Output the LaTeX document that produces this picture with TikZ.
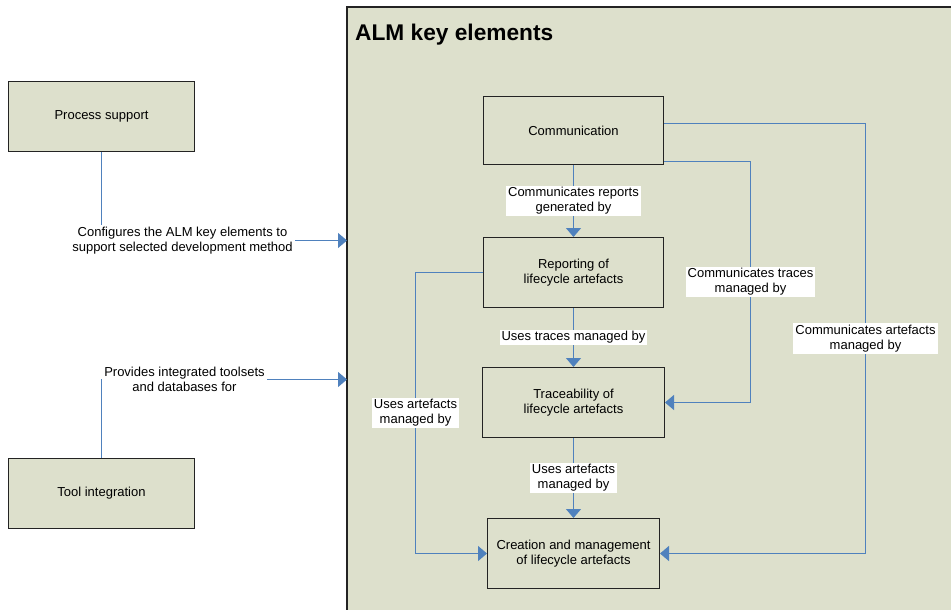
\documentclass[tikz,border=0pt]{standalone}
\usepackage{fontspec}
\setmainfont{Liberation Sans}
\usetikzlibrary{arrows.meta}
\definecolor{almfill}{RGB}{221,224,204}
\definecolor{almblue}{RGB}{79,129,189}
\definecolor{almedge}{RGB}{35,35,35}

\begin{document}
\begin{tikzpicture}[x=1pt, y=-1pt,
    box/.style={draw=almedge, line width=1pt, fill=almfill, align=center,
                font=\fontsize{13}{15}\selectfont},
    link/.style={color=almblue, line width=1.4pt, -{Triangle[width=15pt,length=9pt]}},
    lbl/.style={fill=white, text=black, align=center, inner xsep=2pt, inner ysep=1.5pt,
                font=\fontsize{13}{15}\selectfont}]
  \useasboundingbox (0,0) rectangle (951,610);

  % container
  \fill[almfill] (347,7) rectangle (951,610);
  \draw[almedge, line width=1.3pt] (951,7) -- (347,7) -- (347,610);
  \node[anchor=base west, inner sep=0pt,
        font=\bfseries\fontsize{22.7}{26}\selectfont] (title) at (355,41) {ALM key elements};
  \coordinate (in1) at (347,240.5);
  \coordinate (in2) at (347,379.5);

  % outside boxes
  \node[box, minimum width=186pt, minimum height=70pt] (proc) at (101.5,116.5) {Process support};
  \node[box, minimum width=186pt, minimum height=70pt] (tool) at (101.5,493.5) {Tool integration};

  % key elements
  \node[box, minimum width=180pt, minimum height=68pt] (comm)   at (573.5,130.5) {Communication};
  \node[box, minimum width=180pt, minimum height=70pt] (report) at (573.5,272.5) {Reporting of\\lifecycle artefacts};
  \node[box, minimum width=182pt, minimum height=70pt] (trace)  at (573.5,402.5) {Traceability of\\lifecycle artefacts};
  \node[box, minimum width=172pt, minimum height=70pt] (create) at (573.5,553.5) {Creation and management\\of lifecycle artefacts};

  \draw[link] (proc.south) |- node[lbl, pos=0.665]
        {Configures the ALM key elements to\\support selected development method} (in1);
  \draw[link] (tool.north) |- node[lbl, pos=0.669]
        {Provides integrated toolsets\\and databases for} (in2);

  \draw[link] (comm)   -- node[lbl] {Communicates reports\\generated by} (report);
  \draw[link] (report) -- node[lbl] {Uses traces managed by} (trace);
  \draw[link] (trace)  -- node[lbl] {Uses artefacts\\managed by} (create);

  \draw[link] ([yshift=-31pt]comm.east) -| node[lbl, pos=0.75]
        {Communicates traces\\managed by} ([xshift=85.5pt]trace.east) -- (trace.east);
  \draw[link] ([yshift=7pt]comm.east) -| node[lbl, pos=0.75]
        {Communicates artefacts\\managed by} ([xshift=205.5pt]create.east) -- (create.east);
  \draw[link] (report.west) -| node[lbl, pos=0.75]
        {Uses artefacts\\managed by} ([xshift=-71.5pt]create.west) -- (create.west);
\end{tikzpicture}
\end{document}
